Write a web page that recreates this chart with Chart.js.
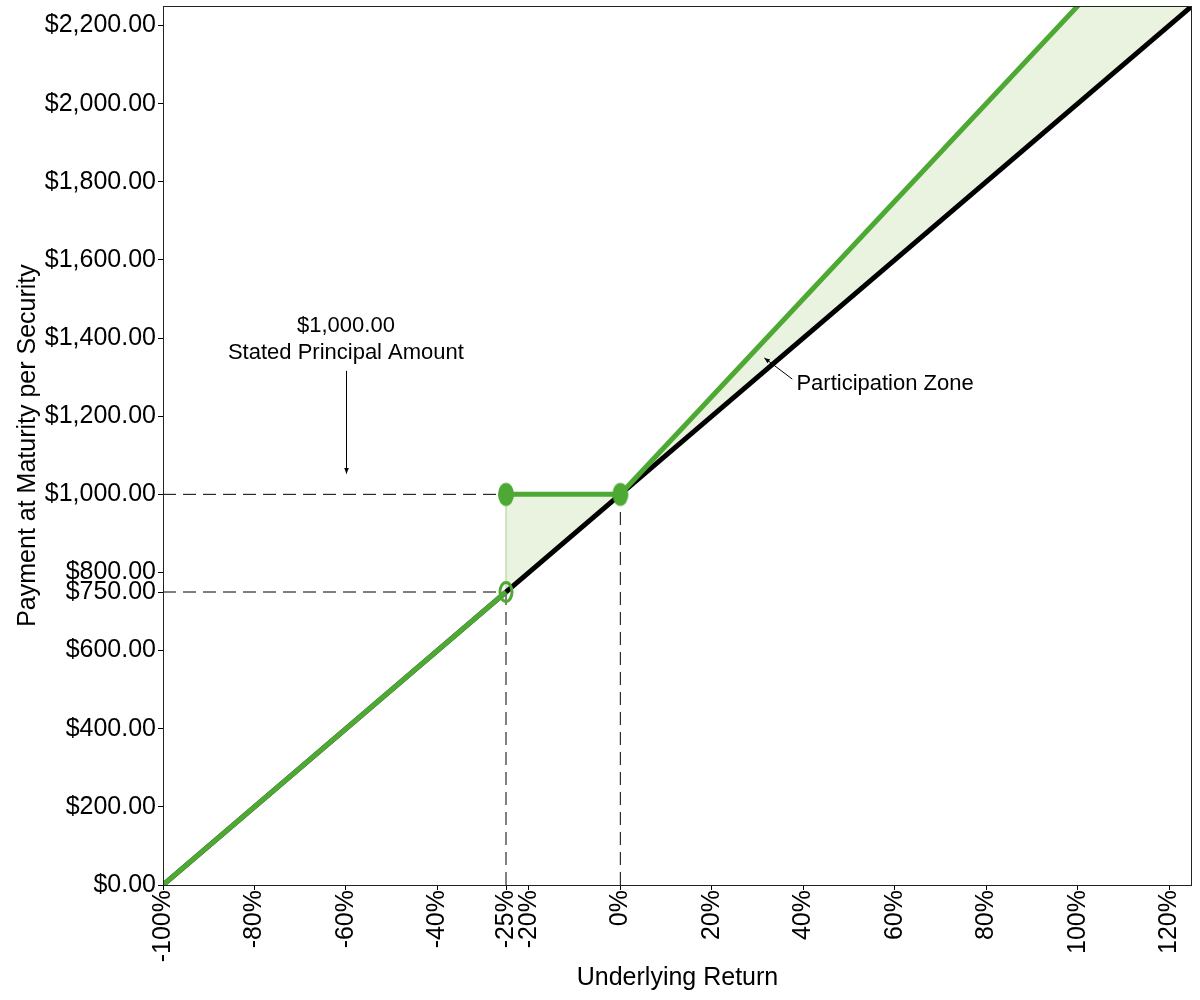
<!DOCTYPE html>
<html>
<head>
<meta charset="utf-8">
<script src="https://cdn.jsdelivr.net/npm/chart.js@4.4.0/dist/chart.umd.min.js"></script>
<style>
  html, body { margin: 0; padding: 0; background: #fff; }
  canvas { display: block; }
</style>
</head>
<body>
<canvas id="payoffChart" width="1200" height="1000"></canvas>
<script>
// Underlying return (%) against payment at maturity ($)
var stockReturn = [-100, 125];
var stockPayment = [0, 2250];

var downReturn = [-100, -25];
var downPayment = [0, 750];

var bufferReturn = [-25, 0];
var bufferPayment = [1000, 1000];

var upReturn = [0, 125];
var upPayment = [1000, 2562.5];

// shaded area between the note and the underlying
var zoneReturn = [-25, -25, 0, 125];
var zonePayment = [750, 1000, 1000, 2562.5];

var closedDotReturn = [-25, 0];
var closedDotPayment = [1000, 1000];
var openDotReturn = [-25];
var openDotPayment = [750];

// dashed guide lines
var guideReturns = [[-100, -25], [-100, -25], [-25, -25], [0, 0]];
var guidePayments = [[1000, 1000], [750, 750], [0, 750], [0, 1000]];

var xTicks = [-100, -80, -60, -40, -25, -20, 0, 20, 40, 60, 80, 100, 120];
var yTicks = [0, 200, 400, 600, 750, 800, 1000, 1200, 1400, 1600, 1800, 2000, 2200];

// annotation text
var principalNote = ['$1,000.00', 'Stated Principal Amount'];
var zoneNote = 'Participation Zone';

var green = '#4da933';
var fontFamily = 'Arial, "Liberation Sans", sans-serif';

Chart.defaults.color = '#000';
Chart.defaults.font.family = fontFamily;

function pts(xs, ys) {
    return xs.map(function(x, i) { return { x: x, y: ys[i] }; });
}

// ellipse shaped point marker
function ellipseMarker(filled) {
    var c = document.createElement('canvas');
    c.width = 20;
    c.height = 26;
    var g = c.getContext('2d');
    g.beginPath();
    if (filled) {
        g.ellipse(10, 13, 8, 11.5, 0, 0, Math.PI * 2);
        g.fillStyle = green;
        g.fill();
    } else {
        g.ellipse(10, 13, 6, 9.5, 0, 0, Math.PI * 2);
        g.lineWidth = 3;
        g.strokeStyle = green;
        g.stroke();
    }
    return c;
}

function money(v) {
    return '$' + v.toLocaleString('en-US', { minimumFractionDigits: 2, maximumFractionDigits: 2 });
}

function arrow(ctx, x1, y1, x2, y2) {
    var ang = Math.atan2(y2 - y1, x2 - x1);
    ctx.beginPath();
    ctx.moveTo(x1, y1);
    ctx.lineTo(x2, y2);
    ctx.stroke();
    ctx.beginPath();
    ctx.moveTo(x2, y2);
    ctx.lineTo(x2 - 6 * Math.cos(ang - 0.4), y2 - 6 * Math.sin(ang - 0.4));
    ctx.lineTo(x2 - 6 * Math.cos(ang + 0.4), y2 - 6 * Math.sin(ang + 0.4));
    ctx.closePath();
    ctx.fill();
}

// frame around the plot and the text notes
var overlayPlugin = {
    id: 'overlay',
    afterDatasetsDraw: function(chart) {
        var ctx = chart.ctx;
        var xs = chart.scales.x;
        var ys = chart.scales.y;
        var a = chart.chartArea;
        ctx.save();
        ctx.strokeStyle = '#222';
        ctx.lineWidth = 1;
        ctx.strokeRect(a.left + 0.5, a.top + 0.5, a.right - a.left - 1, a.bottom - a.top);

        ctx.fillStyle = '#000';
        ctx.strokeStyle = '#000';
        ctx.font = '22px ' + fontFamily;
        ctx.textBaseline = 'middle';
        ctx.textAlign = 'center';
        var px = xs.getPixelForValue(-60);
        ctx.fillText(principalNote[0], px, ys.getPixelForValue(1431));
        ctx.fillText(principalNote[1], px, ys.getPixelForValue(1362));
        arrow(ctx, Math.round(px) + 0.5, ys.getPixelForValue(1316), Math.round(px) + 0.5, ys.getPixelForValue(1053));

        ctx.textAlign = 'left';
        ctx.fillText(zoneNote, xs.getPixelForValue(38.5), ys.getPixelForValue(1283));
        arrow(ctx, xs.getPixelForValue(37.6), ys.getPixelForValue(1295), xs.getPixelForValue(31.5), ys.getPixelForValue(1349));
        ctx.restore();
    }
};

var datasets = [
    {
        data: pts(zoneReturn, zonePayment),
        showLine: true, pointRadius: 0,
        borderColor: '#a3d38e', borderWidth: 1,
        backgroundColor: '#eaf3e0',
        fill: '+1', order: 10
    },
    {
        data: pts(stockReturn, stockPayment),
        showLine: true, pointRadius: 0,
        borderColor: '#000', borderWidth: 5,
        order: 5
    }
];

guideReturns.forEach(function(xs, i) {
    datasets.push({
        data: pts(xs, guidePayments[i]),
        showLine: true, pointRadius: 0,
        borderColor: '#000', borderWidth: 1,
        borderDash: [13, 7],
        order: 8
    });
});

[[downReturn, downPayment], [bufferReturn, bufferPayment], [upReturn, upPayment]].forEach(function(s) {
    datasets.push({
        data: pts(s[0], s[1]),
        showLine: true, pointRadius: 0,
        borderColor: green, borderWidth: 5,
        order: 3
    });
});

datasets.push({
    data: pts(closedDotReturn, closedDotPayment),
    pointStyle: ellipseMarker(true),
    order: 1
});
datasets.push({
    data: pts(openDotReturn, openDotPayment),
    pointStyle: ellipseMarker(false),
    order: 1
});

new Chart(document.getElementById('payoffChart'), {
    type: 'scatter',
    data: { datasets: datasets },
    plugins: [overlayPlugin],
    options: {
        responsive: false,
        animation: false,
        devicePixelRatio: 1,
        layout: { padding: { left: 0, top: 6, right: 8, bottom: 0 } },
        plugins: { legend: { display: false }, tooltip: { enabled: false } },
        scales: {
            x: {
                type: 'linear', min: -100, max: 125,
                afterBuildTicks: function(s) { s.ticks = xTicks.map(function(v) { return { value: v }; }); },
                afterFit: function(s) { s.height = 115; s.paddingLeft = 0; s.paddingRight = 0; },
                ticks: {
                    autoSkip: false, minRotation: 90, maxRotation: 90, padding: 0,
                    font: { size: 25 },
                    callback: function(v) { return v + '%'; }
                },
                grid: { drawOnChartArea: false, tickLength: 5, color: '#000' },
                border: { display: false },
                title: { display: true, text: 'Underlying Return', font: { size: 25 }, padding: { top: 0, bottom: 7 } }
            },
            y: {
                type: 'linear', min: 0, max: 2250,
                afterBuildTicks: function(s) { s.ticks = yTicks.map(function(v) { return { value: v }; }); },
                afterFit: function(s) { s.width = 163; s.paddingTop = 0; s.paddingBottom = 0; },
                ticks: {
                    autoSkip: false, padding: 2,
                    font: { size: 25 },
                    callback: function(v) { return money(v); }
                },
                grid: { drawOnChartArea: false, tickLength: 5, color: '#000' },
                border: { display: false },
                title: { display: true, text: 'Payment at Maturity per Security', font: { size: 25 }, padding: { top: 13, bottom: 0 } }
            }
        }
    }
});
</script>
</body>
</html>
